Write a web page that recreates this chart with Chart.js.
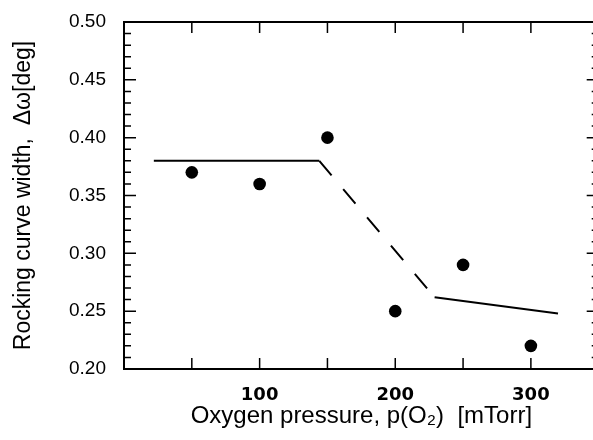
<!DOCTYPE html>
<html>
<head>
<meta charset="utf-8">
<script src="https://cdn.jsdelivr.net/npm/chart.js@4"></script>
<style>
  html, body { margin: 0; padding: 0; background: #fff; overflow: hidden; }
</style>
</head>
<body>
<canvas id="rockingChart" width="605" height="440"></canvas>
<script>
// measured points
var pressures = [50, 100, 150, 200, 250, 300];
var widths = [0.37, 0.36, 0.40, 0.25, 0.29, 0.22];

// guide line (solid - dashed - solid)
var fitPressures = [22, 144, 229, 320];
var fitWidths = [0.38, 0.38, 0.262, 0.248];

// axis ticks
var xTicks = [0, 50, 100, 150, 200, 250, 300, 350];
var xTickLabels = ['', '', '100', '', '200', '', '300', ''];
var yTicks = [0.20, 0.25, 0.30, 0.35, 0.40, 0.45, 0.50];
var yTickLabels = ['0.20', '0.25', '0.30', '0.35', '0.40', '0.45', '0.50'];

function toPoints(xs, ys) {
    return xs.map(function (v, i) { return { x: v, y: ys[i] }; });
}

// box frame with inward tick marks on all four sides
var frameTicks = {
    id: 'frameTicks',
    beforeDatasetsDraw: function (chart) {
        var ctx = chart.ctx;
        var a = chart.chartArea;
        var xs = chart.scales.x;
        var ys = chart.scales.y;
        ctx.save();
        ctx.strokeStyle = '#000';
        ctx.lineWidth = 2;
        ctx.strokeRect(a.left, a.top, a.right - a.left, a.bottom - a.top);
        ctx.lineWidth = 1.5;
        ctx.beginPath();
        xTicks.forEach(function (v) {
            var px = xs.getPixelForValue(v);
            ctx.moveTo(px, a.bottom);
            ctx.lineTo(px, a.bottom - 11);
            ctx.moveTo(px, a.top);
            ctx.lineTo(px, a.top + 11);
        });
        for (var i = 20; i <= 50; i++) {
            var py = ys.getPixelForValue(i / 100);
            var len = i % 5 === 0 ? 12 : 7;
            ctx.moveTo(a.left, py);
            ctx.lineTo(a.left + len, py);
            ctx.moveTo(a.right, py);
            ctx.lineTo(a.right - len, py);
        }
        ctx.stroke();
        ctx.restore();
    }
};

var ctx = document.getElementById('rockingChart').getContext('2d');

var data = {
    datasets: [
        {
            label: 'fit',
            data: toPoints(fitPressures, fitWidths),
            showLine: true,
            borderColor: '#000',
            borderWidth: 2,
            pointRadius: 0,
            fill: false,
            segment: {
                borderDash: function (c) { return c.p0DataIndex === 1 ? [19, 18] : undefined; }
            }
        },
        {
            label: 'data',
            data: toPoints(pressures, widths),
            showLine: false,
            pointRadius: 6.3,
            pointBackgroundColor: '#000',
            pointBorderColor: '#000',
            pointBorderWidth: 0
        }
    ]
};

// invisible outward tick marks only serve as label spacing
var hiddenGrid = function (len) {
    return {
        display: true,
        drawOnChartArea: false,
        drawTicks: true,
        tickLength: len,
        color: 'rgba(0,0,0,0)'
    };
};

var options = {
    responsive: false,
    animation: false,
    devicePixelRatio: 1,
    layout: { padding: { top: 22, right: 1, left: 0, bottom: 0 } },
    plugins: {
        legend: { display: false },
        tooltip: { enabled: false }
    },
    scales: {
        x: {
            type: 'linear',
            min: 0,
            max: 350,
            grid: hiddenGrid(16),
            border: { display: false },
            afterBuildTicks: function (scale) {
                scale.ticks = xTicks.map(function (v) { return { value: v }; });
            },
            afterFit: function (scale) { scale.height = 71; },
            ticks: {
                autoSkip: false,
                maxRotation: 0,
                padding: 0,
                color: '#000',
                font: { family: 'DejaVu Sans', size: 18, weight: 'bold' },
                callback: function (value, index) { return xTickLabels[index]; }
            },
            title: {
                display: true,
                text: 'Oxygen pressure, p(O\u2082)  [mTorr]',
                color: '#000',
                font: { family: 'Liberation Sans', size: 24 },
                padding: { top: 0, bottom: 9 }
            }
        },
        y: {
            type: 'linear',
            min: 0.2,
            max: 0.5,
            grid: hiddenGrid(18),
            border: { display: false },
            afterBuildTicks: function (scale) {
                scale.ticks = yTicks.map(function (v) { return { value: v }; });
            },
            afterFit: function (scale) { scale.width = 124; },
            ticks: {
                autoSkip: false,
                padding: 0,
                color: '#000',
                font: { family: 'Liberation Sans', size: 19 },
                callback: function (value, index) { return yTickLabels[index]; }
            },
            title: {
                display: true,
                text: 'Rocking curve width,  \u0394\u03c9[deg]',
                color: '#000',
                font: { family: 'Liberation Sans', size: 23 },
                padding: { top: 10, bottom: 0 }
            }
        }
    }
};

var rockingChart = new Chart(ctx, {
    type: 'scatter',
    data: data,
    options: options,
    plugins: [frameTicks]
});
</script>
</body>
</html>
